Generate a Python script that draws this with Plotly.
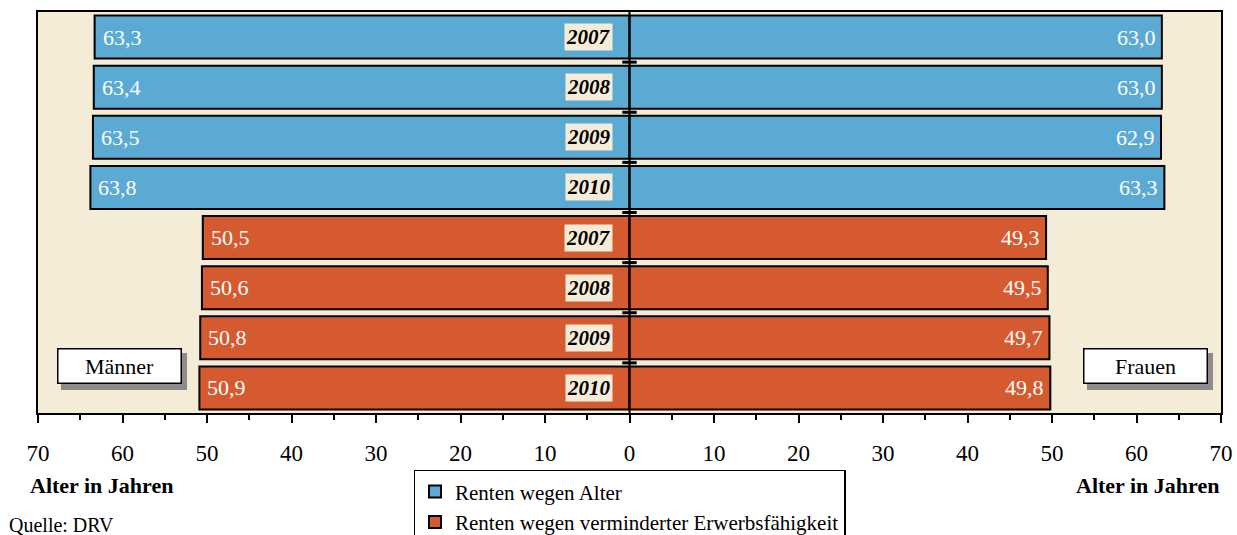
import plotly.graph_objects as go

# Data
years = ["2007", "2008", "2009", "2010"]
alter_maenner = [63.3, 63.4, 63.5, 63.8]
alter_frauen = [63.0, 63.0, 62.9, 63.3]
ewm_maenner = [50.5, 50.6, 50.8, 50.9]
ewm_frauen = [49.3, 49.5, 49.7, 49.8]
series_names = ["Renten wegen Alter", "Renten wegen verminderter Erwerbsfähigkeit"]
tick_vals = list(range(-70, 71, 10))
tick_text = [str(abs(v)) for v in tick_vals]

blue = "#5BAAD3"
orange = "#D65A2F"
cream = "#F5ECD8"
font = "Liberation Serif"


def fmt(v):
    return f"{v:.1f}".replace(".", ",")


rows_alter = [f"A{y}" for y in years]
rows_ewm = [f"E{y}" for y in years]
all_rows = rows_alter + rows_ewm

fig = go.Figure()
groups = [
    (series_names[0], rows_alter, alter_maenner, alter_frauen, blue),
    (series_names[1], rows_ewm, ewm_maenner, ewm_frauen, orange),
]
for name, rows, men, women, col in groups:
    fig.add_trace(go.Bar(y=rows, x=[-v for v in men], orientation="h", name=name,
                         legendgroup=name, showlegend=True, marker_color=col,
                         marker_line=dict(color="black", width=2)))
    fig.add_trace(go.Bar(y=rows, x=women, orientation="h", name=name,
                         legendgroup=name, showlegend=False, marker_color=col,
                         marker_line=dict(color="black", width=2)))

annotations = []
for name, rows, men, women, col in groups:
    for r, m, w, y in zip(rows, men, women, years):
        annotations.append(dict(x=-m, y=r, text=fmt(m), showarrow=False, xanchor="left",
                                xshift=6, font=dict(color="white", size=22, family=font)))
        annotations.append(dict(x=w, y=r, text=fmt(w), showarrow=False, xanchor="right",
                                xshift=-4, font=dict(color="white", size=22, family=font)))
        annotations.append(dict(x=-1.95, y=r, text=f"<b><i>{y}</i></b>", showarrow=False,
                                xanchor="right", bgcolor=cream, borderpad=1,
                                font=dict(color="black", size=21, family=font)))

shapes = []
# Männer / Frauen boxes, shadow drawn as a grey rectangle behind
for label, px_, sx0, sx1 in [("Männer", 0.0685, 0.0194, 0.1260),
                             ("Frauen", 0.9358, 0.8867, 0.9932)]:
    shapes.append(dict(type="rect", xref="paper", yref="paper", x0=sx0, x1=sx1,
                       y0=0.0574, y1=0.1496, fillcolor="#8C8C8C",
                       line=dict(width=0), layer="above"))
    annotations.append(dict(x=px_, y=0.116, xref="paper", yref="paper", text=label,
                            xanchor="center", yanchor="middle",
                            showarrow=False, width=120, height=31,
                            bgcolor="white", bordercolor="black", borderwidth=1.5,
                            font=dict(color="black", size=22, family=font)))

for px_ in [0.0533, 0.938]:
    annotations.append(dict(x=px_, y=-0.18, xref="paper", yref="paper",
                            xanchor="center", yanchor="middle",
                            text="<b>Alter in Jahren</b>", showarrow=False,
                            font=dict(color="black", size=22, family=font)))
annotations.append(dict(x=-0.026, y=-0.279, xref="paper", yref="paper", xanchor="left",
                        yanchor="middle", text="Quelle: DRV", showarrow=False,
                        font=dict(color="black", size=20, family=font)))

shapes.append(dict(type="line", x0=0, x1=0, y0=0, y1=1, yref="paper",
                   line=dict(color="black", width=2), layer="above"))
for i in range(len(all_rows) - 1):
    shapes.append(dict(type="line", x0=-0.85, x1=0.85, y0=i + 0.5, y1=i + 0.5,
                       line=dict(color="black", width=3), layer="above"))

fig.update_layout(
    width=1237, height=535,
    # legend runs off the bottom like in the original, so no margin pushing
    margin=dict(l=38, r=16, t=12, b=122, autoexpand=False),
    paper_bgcolor="white", plot_bgcolor=cream,
    barmode="relative", bargap=0.14,
    font=dict(family=font, color="black", size=22),
    annotations=annotations, shapes=shapes,
    legend=dict(x=0.5, y=-0.142, xanchor="center", yanchor="top",
                bordercolor="black", borderwidth=1.5, bgcolor="white",
                font=dict(size=21, family=font), tracegroupgap=0,
                itemsizing="constant"),
)
fig.update_xaxes(range=[-70, 70], tickvals=tick_vals, ticktext=tick_text,
                 ticks="outside", ticklen=8, tickwidth=2, tickcolor="black",
                 showline=True, linecolor="black", linewidth=2, mirror=True,
                 showgrid=False, zeroline=False, ticklabelstandoff=10,
                 automargin=False,
                 minor=dict(dtick=5, tick0=0, ticks="outside", ticklen=5,
                            tickwidth=2, tickcolor="black"),
                 tickfont=dict(size=23, family=font))
fig.update_yaxes(categoryorder="array", categoryarray=all_rows, autorange="reversed",
                 showticklabels=False, showline=True, linecolor="black", linewidth=2,
                 mirror=True, showgrid=False, ticks="", automargin=False)

# drop the default body margin so the figure sits at the page corner
fig.write_html("out.html", config={"displayModeBar": False},
               post_script="document.body.style.margin='0';")
